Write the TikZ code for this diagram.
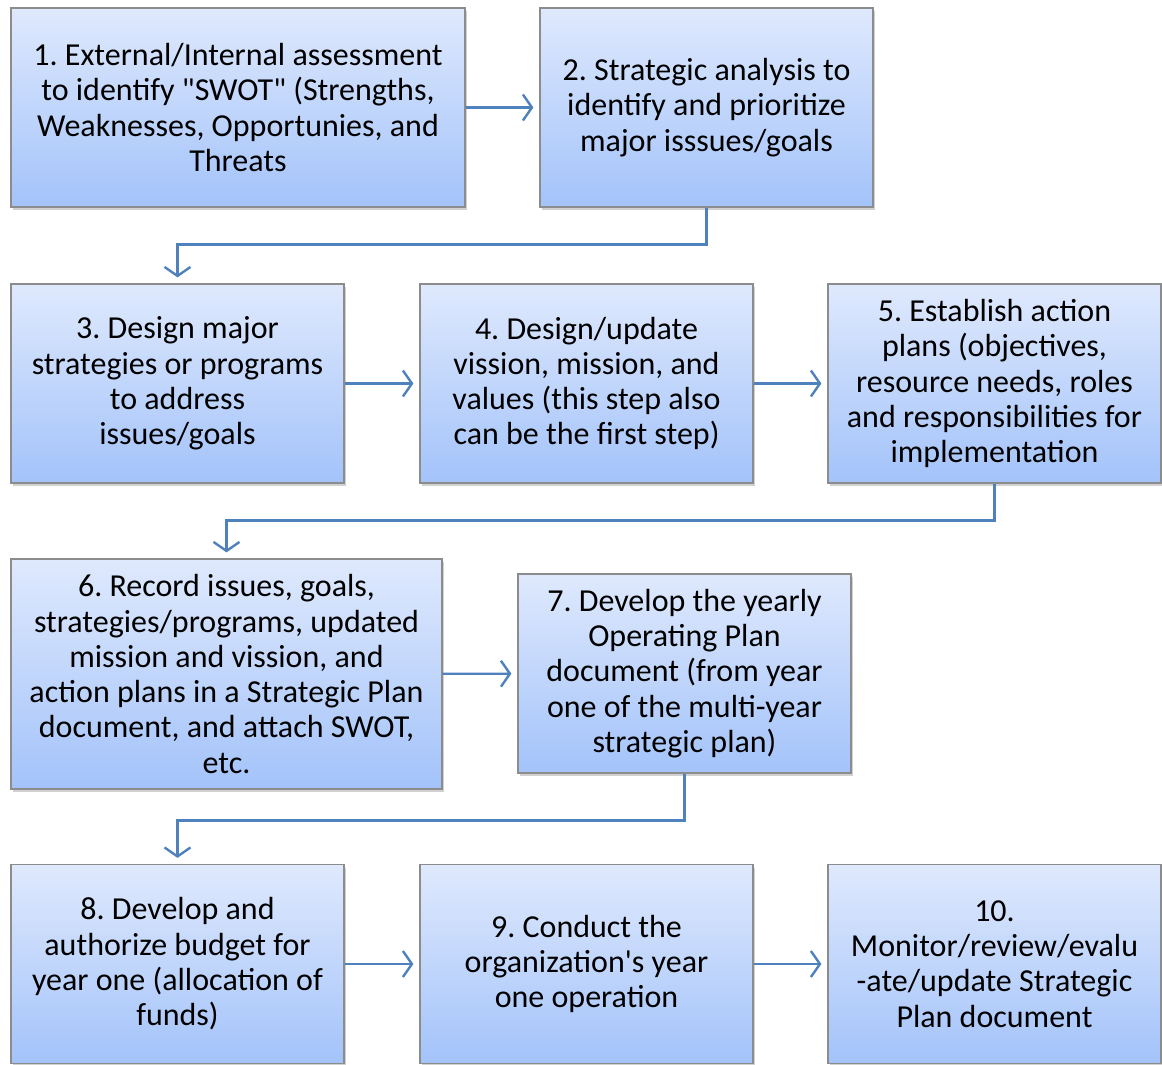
\documentclass[tikz,border=0pt]{standalone}
\usepackage{fontspec}
\setmainfont{Carlito}[Ligatures=TeXOff]
\usetikzlibrary{arrows.meta,positioning,shadows}
\definecolor{stepline}{HTML}{4F81BD}
\definecolor{boxtop}{HTML}{DFE9FD}
\definecolor{boxbottom}{HTML}{A3C3FA}
\frenchspacing
\tikzset{%
  >={Straight Barb[length=9pt,width=26pt,line width=2.4pt]},
  % Specifications for style of nodes:
      stepbase/.style = {rectangle, draw=black!45, line width=1.2pt,
                         shading=axis, top color=boxtop, bottom color=boxbottom,
                         drop shadow={shadow xshift=2pt, shadow yshift=-3pt,
                                      opacity=0.3, fill=black!60},
                         minimum width=333pt, minimum height=199pt,
                         inner sep=0pt, text centered,
                         font=\fontsize{32}{35.3}\selectfont},
      widestep/.style = {stepbase, minimum width=454pt},
      tallstep/.style = {stepbase, minimum width=431pt, minimum height=230pt},
      flow/.style     = {->, draw=stepline, line width=2.4pt, shorten >=6pt},
}

\begin{document}
\begin{tikzpicture}[x=1pt, y=-1pt, align=center]
  \useasboundingbox (0,0) rectangle (1162,1065);
  % Specification of nodes (position, etc.)
  \node (assessment) [widestep] at (238,107.5)
    {1. External/Internal assessment\\to identify "SWOT" (Strengths,\\Weaknesses, Opportunies, and\\Threats};
  \node (analysis)   [stepbase] at (706.5,107.5)
    {2. Strategic analysis to\\identify and prioritize\\major isssues/goals};
  \node (strategies) [stepbase] at (177.5,383.5)
    {3. Design major\\strategies or programs\\to address\\issues/goals};
  \node (vision)     [stepbase] at (586.5,383.5)
    {4. Design/update\\vission, mission, and\\values (this step also\\can be the first step)};
  \node (actions)    [stepbase] at (994.5,383.5)
    {5. Establish action\\plans (objectives,\\resource needs, roles\\and responsibilities for\\implementation};
  \node (record)     [tallstep] at (226.5,674)
    {6. Record issues, goals,\\strategies/programs, updated\\mission and vission, and\\action plans in a Strategic Plan\\document, and attach SWOT,\\etc.};
  \node (operating)  [stepbase] at (684.5,673.5)
    {7. Develop the yearly\\Operating Plan\\document (from year\\one of the multi-year\\strategic plan)};
  \node (budget)     [stepbase] at (177.5,964)
    {8. Develop and\\authorize budget for\\year one (allocation of\\funds)};
  \node (operation)  [stepbase] at (586.5,964)
    {9. Conduct the\\organization's year\\one operation};
  \node (monitor)    [stepbase] at (994.5,964)
    {10.\\Monitor/review/evalu\\-ate/update Strategic\\Plan document};
  % Specification of lines between nodes specified above
  \draw[flow] (assessment) -- (analysis);
  \draw[flow] (analysis.south) -- ++(0,37) -| (strategies);
  \draw[flow] (strategies) -- (vision);
  \draw[flow] (vision) -- (actions);
  \draw[flow] (actions.south) -- ++(0,37) -| (record);
  \draw[flow] (record) -- (operating);
  \draw[flow] (operating.south) -- ++(0,47) -| (budget);
  \draw[flow] (budget) -- (operation);
  \draw[flow] (operation) -- (monitor);
\end{tikzpicture}
\end{document}
